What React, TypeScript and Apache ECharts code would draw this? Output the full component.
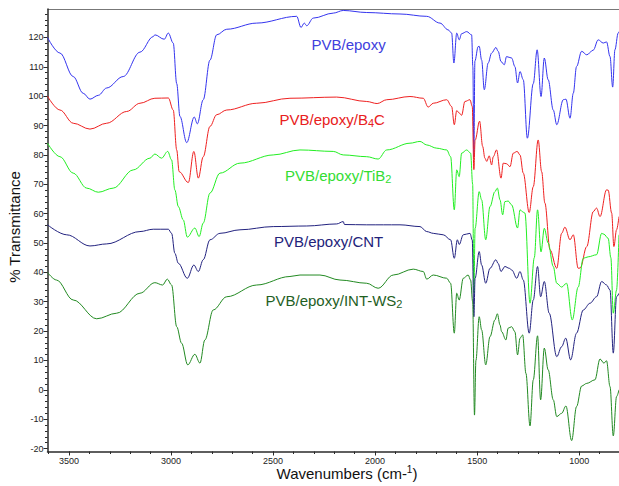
import React, { useEffect, useRef } from "react";
import * as echarts from "echarts";

const FONT = "Liberation Sans, Arial, Helvetica, sans-serif";

const xMajorTicks = [3500, 3000, 2500, 2000, 1500, 1000];
const yMajorTicks = [-20, -10, 0, 10, 20, 30, 40, 50, 60, 70, 80, 90, 100, 110, 120];

const seriesNames = ["PVB/epoxy", "PVB/epoxy/B4C", "PVB/epoxy/TiB2", "PVB/epoxy/CNT", "PVB/epoxy/INT-WS2"];
const seriesColors = ["#3434ee", "#ee2020", "#22ee22", "#22227f", "#228a22"];

const pvbEpoxy: number[][] = [
  [3605, 120], [3544, 114.7], [3479, 106.7], [3430, 101], [3397, 99], [3356, 100.3], [3315, 102.8], [3234, 106.7],
  [3152, 115], [3087, 120.3], [3079, 120.9], [3033, 119.4], [3013, 121.5], [2989, 118.1], [2972, 104.3], [2956, 93.1],
  [2923, 84.2], [2886, 92.9], [2871, 90.6], [2842, 98.8], [2809, 112.3], [2776, 120.9], [2727, 122.8], [2580, 124.9],
  [2384, 127.2], [2363, 123.4], [2347, 124.9], [2335, 124], [2303, 126.6], [2205, 128.3], [2156, 129.2], [2041, 128.5],
  [1878, 128], [1747, 127.2], [1682, 124.9], [1642, 122.6], [1625, 121.5], [1614, 111.3], [1600, 121.5], [1588, 119.2],
  [1576, 121.3], [1551, 122], [1527, 120.9], [1521, 110], [1516, 79.3], [1511, 112], [1495, 116.9], [1490, 117],
  [1478, 112.3], [1465, 102.2], [1446, 111.3], [1429, 114.7], [1408, 116.6], [1397, 115.3], [1383, 111.8], [1367, 110.7],
  [1356, 113.5], [1331, 113], [1315, 110.1], [1302, 104.5], [1290, 108.4], [1274, 105.6], [1254, 85.7], [1225, 104.3],
  [1206, 115.8], [1187, 99.9], [1171, 113], [1152, 105.6], [1127, 95.3], [1110, 90.3], [1078, 98.8], [1065, 99],
  [1045, 92.5], [1029, 101], [1013, 110.1], [988, 115.3], [963, 114.1], [931, 115.7], [907, 119.2], [882, 118.1],
  [866, 118.5], [849, 113.5], [836, 103.1], [825, 115.8], [809, 121.5], [805, 122]
];

const pvbB4C: number[][] = [
  [3605, 100], [3544, 95.3], [3479, 90.8], [3397, 88.8], [3315, 90.8], [3217, 94.8], [3152, 97.6], [3079, 99.3],
  [3013, 99.4], [2989, 95.3], [2972, 81.7], [2960, 74.3], [2915, 70.6], [2888, 81.2], [2866, 72.1], [2842, 79.4],
  [2809, 89.7], [2776, 93.7], [2727, 95.3], [2580, 97.6], [2417, 99.3], [2188, 99.7], [2041, 98.2], [1990, 97.5],
  [1943, 98.8], [1829, 99.9], [1764, 99.3], [1740, 96.3], [1715, 97.6], [1649, 98.8], [1625, 96.5], [1612, 90.3],
  [1600, 95.1], [1588, 94.3], [1576, 93.5], [1560, 98.2], [1535, 98.8], [1524, 96.5], [1516, 75], [1510, 85],
  [1488, 91.5], [1473, 82.9], [1462, 78.9], [1453, 77.8], [1441, 79.7], [1429, 76.6], [1421, 79.4], [1405, 81.7],
  [1383, 72.1], [1372, 77.2], [1356, 77], [1339, 76], [1323, 80.6], [1304, 81.2], [1290, 80], [1274, 73.8],
  [1245, 60.4], [1225, 69.2], [1201, 85.1], [1184, 74.3], [1168, 63.6], [1143, 47.7], [1110, 41.4], [1086, 53.3],
  [1070, 55.4], [1045, 51.1], [1029, 52.8], [1005, 41.4], [995, 41.5], [963, 48.8], [931, 60.7], [915, 61.9],
  [898, 59], [866, 68.1], [858, 68], [841, 60.2], [830, 48.8], [817, 54.5], [805, 59]
];

const pvbTiB2: number[][] = [
  [3605, 84], [3544, 79.4], [3479, 73.8], [3413, 68.7], [3356, 67.3], [3283, 68.7], [3185, 74.9], [3103, 78.9],
  [3079, 80.3], [3046, 78.9], [3016, 81.2], [2997, 78.3], [2981, 68.1], [2964, 62.4], [2940, 57.9], [2920, 52],
  [2883, 55.1], [2862, 52.2], [2842, 56.8], [2809, 67], [2760, 73.8], [2662, 77.2], [2499, 80], [2368, 81.7],
  [2205, 81.2], [2156, 80], [2041, 79.4], [1985, 78.6], [1943, 81.7], [1829, 84], [1780, 84.6], [1747, 83.4],
  [1698, 82.3], [1649, 81.7], [1630, 79.4], [1612, 61.3], [1600, 74.9], [1588, 72.6], [1576, 80.6], [1551, 81.7],
  [1532, 80.6], [1522, 70], [1516, 33], [1510, 55], [1490, 67.5], [1478, 64.7], [1458, 51.1], [1437, 62.4],
  [1413, 67.5], [1401, 68.7], [1388, 64.7], [1375, 59.6], [1364, 64.1], [1348, 64.3], [1331, 63], [1302, 55.1],
  [1290, 61.3], [1274, 60.5], [1266, 60.2], [1241, 29.5], [1220, 45], [1204, 61.3], [1187, 47], [1171, 55],
  [1152, 50], [1127, 42], [1110, 36.3], [1086, 35], [1062, 36.3], [1034, 23.8], [1005, 35], [980, 44.8],
  [956, 45.3], [915, 46], [890, 53.3], [879, 53], [858, 51.6], [845, 45], [833, 26.1], [817, 34], [805, 52.8]
];

const pvbCNT: number[][] = [
  [3605, 56.2], [3511, 52.8], [3397, 49], [3315, 49.7], [3152, 53.9], [3087, 54.7], [3013, 54.7], [2997, 53.3],
  [2981, 46.5], [2964, 43.1], [2920, 38], [2888, 42.5], [2866, 40.3], [2842, 44.3], [2809, 51.1], [2760, 53.3],
  [2662, 54.5], [2499, 55.6], [2335, 55.8], [2188, 56.5], [2156, 57.3], [2150, 56.3], [2041, 56.2], [1878, 56.2],
  [1780, 55.6], [1747, 53.9], [1715, 53.3], [1666, 52.8], [1630, 51.1], [1612, 44.8], [1597, 51.1], [1588, 49.5],
  [1568, 52.8], [1535, 53.3], [1524, 51], [1516, 24.9], [1510, 38], [1490, 47.1], [1478, 42.5], [1458, 36.3],
  [1437, 41.4], [1408, 44.3], [1397, 43], [1383, 40.3], [1364, 42], [1343, 41.4], [1330, 40.8], [1306, 38],
  [1290, 40.3], [1274, 37.4], [1245, 19.3], [1225, 30.6], [1204, 42], [1189, 31.7], [1171, 36.9], [1147, 26.1],
  [1110, 11.3], [1086, 14.7], [1066, 17.6], [1042, 10.2], [1013, 19.3], [980, 27.2], [947, 29.5], [915, 31.7],
  [890, 36.9], [866, 35.7], [849, 34], [833, 12.5], [817, 31.7], [805, 32.9]
];

const pvbWS2: number[][] = [
  [3605, 40], [3561, 37.4], [3479, 30.6], [3364, 24.2], [3266, 26.1], [3152, 32.9], [3079, 36.5], [3041, 35.7],
  [3018, 37.7], [2997, 35.7], [2972, 21.5], [2948, 15.9], [2918, 8.5], [2883, 12.1], [2858, 9.1], [2834, 17],
  [2793, 27.2], [2727, 31.7], [2580, 35.7], [2417, 38.6], [2368, 39.1], [2270, 39.1], [2172, 37.4], [2041, 36.3],
  [1985, 34.6], [1911, 39.1], [1813, 41.1], [1764, 40.3], [1747, 37.7], [1715, 39.1], [1649, 38], [1630, 36.3],
  [1612, 19.3], [1600, 32.9], [1588, 30.6], [1568, 38], [1544, 39.1], [1532, 37.4], [1522, 30], [1513, -8.6],
  [1506, 10], [1490, 24.9], [1478, 20.4], [1458, 8.5], [1437, 18.1], [1413, 23.8], [1401, 25.9], [1388, 22.1],
  [1380, 19.8], [1359, 17], [1348, 21], [1331, 21.5], [1315, 19.8], [1302, 11.9], [1290, 17.6], [1277, 18.7],
  [1261, 5.6], [1241, -12.3], [1225, 3.4], [1204, 18.4], [1189, -3.4], [1171, 14.2], [1152, 6.8], [1127, -3.4],
  [1110, -9.1], [1086, -8], [1065, -5.5], [1037, -17.3], [1013, -5.7], [988, 1.3], [963, 2.2], [923, 3.4],
  [898, 10.5], [879, 9.1], [866, 9.9], [849, 1.1], [833, -15.7], [817, -2.3], [805, 0]
];

const allSeries = [pvbEpoxy, pvbB4C, pvbTiB2, pvbCNT, pvbWS2];

export default function App() {
  const ref = useRef<HTMLDivElement>(null);
  useEffect(() => {
    if (!ref.current) return;
    const chart = echarts.init(ref.current, null, { renderer: "svg" });

    const xMinor: number[] = [];
    for (let v = 900; v <= 3600; v += 100) xMinor.push(v);
    const yMinor: number[] = [];
    for (let v = -20; v <= 128; v += 2) yMinor.push(v);

    const X_MIN = 805, X_MAX = 3605, Y_MIN = -21, Y_MAX = 129.7;
    const axisColor = "#2a2a2a";
    const plain = (v: number) => String(v);

    const label = (text: string, x: number, y: number, color: string) => ({
      type: "text",
      x,
      y,
      silent: true,
      style: {
        text,
        fill: color,
        font: `15px ${FONT}`,
        verticalAlign: "middle",
        rich: {
          a: { fontSize: 15, fontFamily: FONT, lineHeight: 18, color },
          s: { fontSize: 11, fontFamily: FONT, lineHeight: 18, verticalAlign: "bottom", padding: [3, 0, 0, 0], color },
        },
      },
    });

    chart.setOption({
      animation: false,
      backgroundColor: "#ffffff",
      grid: { left: 47.5, right: 0, top: 9, bottom: 34.5, containLabel: false },
      xAxis: [
        {
          type: "value",
          inverse: true,
          min: X_MIN,
          max: X_MAX,
          position: "bottom",
          axisLine: { show: true, onZero: false, lineStyle: { color: axisColor, width: 1.5 } },
          axisTick: { show: true, customValues: xMajorTicks, length: 4, lineStyle: { color: axisColor, width: 1 } },
          axisLabel: { show: true, customValues: xMajorTicks, formatter: plain, fontSize: 9, fontFamily: FONT, color: "#222", margin: 5 },
          splitLine: { show: false },
        },
        {
          type: "value",
          inverse: true,
          min: X_MIN,
          max: X_MAX,
          position: "bottom",
          axisLine: { show: false, onZero: false },
          axisTick: { show: true, customValues: xMinor, length: 2.5, lineStyle: { color: axisColor, width: 1 } },
          axisLabel: { show: false },
          splitLine: { show: false },
        },
      ],
      yAxis: [
        {
          type: "value",
          min: Y_MIN,
          max: Y_MAX,
          position: "left",
          axisLine: { show: true, onZero: false, lineStyle: { color: axisColor, width: 1.5 } },
          axisTick: { show: true, customValues: yMajorTicks, length: 4, lineStyle: { color: axisColor, width: 1 } },
          axisLabel: { show: true, customValues: yMajorTicks, formatter: plain, fontSize: 9, fontFamily: FONT, color: "#222", margin: 4 },
          splitLine: { show: false },
        },
        {
          type: "value",
          min: Y_MIN,
          max: Y_MAX,
          position: "left",
          axisLine: { show: false, onZero: false },
          axisTick: { show: true, customValues: yMinor, length: 2.5, lineStyle: { color: axisColor, width: 1 } },
          axisLabel: { show: false },
          splitLine: { show: false },
        },
      ],
      series: allSeries.map((data, i) => ({
        name: seriesNames[i],
        type: "line",
        data,
        xAxisIndex: 0,
        yAxisIndex: 0,
        showSymbol: false,
        symbol: "none",
        smooth: 0.35,
        smoothMonotone: "x",
        clip: true,
        lineStyle: { color: seriesColors[i], width: 1 },
      })),
      graphic: [
        {
          type: "line",
          silent: true,
          shape: { x1: 47.5, y1: 9.5, x2: 619, y2: 9.5 },
          style: { stroke: "#777", lineWidth: 1 },
        },
        label("{a|PVB/epoxy}", 311.5, 44.5, "#4040dd"),
        label("{a|PVB/epoxy/B}{s|4}{a|C}", 279.5, 119.5, "#e82020"),
        label("{a|PVB/epoxy/TiB}{s|2}", 285, 175.5, "#33dd33"),
        label("{a|PVB/epoxy/CNT}", 274, 241.5, "#22227a"),
        label("{a|PVB/epoxy/INT-WS}{s|2}", 265.5, 300.5, "#1f601f"),
        {
          type: "text",
          x: 347,
          y: 473,
          silent: true,
          style: {
            text: "{a|Wavenumbers (cm-}{s|1}{a|)}",
            fill: "#111",
            align: "center",
            verticalAlign: "middle",
            rich: {
              a: { fontSize: 15, fontFamily: FONT, color: "#111", lineHeight: 18 },
              s: { fontSize: 10, fontFamily: FONT, color: "#111", lineHeight: 18, verticalAlign: "top" },
            },
          },
        },
        {
          type: "text",
          x: 14,
          y: 227,
          rotation: Math.PI / 2,
          silent: true,
          style: {
            text: "% Transmittance",
            fill: "#111",
            font: `15px ${FONT}`,
            align: "center",
            verticalAlign: "middle",
          },
        },
      ],
    });

    return () => chart.dispose();
  }, []);

  return (
    <div
      ref={ref}
      style={{ position: "absolute", left: 0, top: 0, width: 619, height: 486, background: "#fff" }}
    />
  );
}
